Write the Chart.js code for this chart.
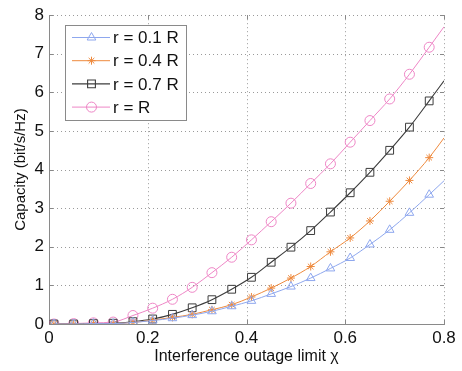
<!DOCTYPE html>
<html>
<head>
<meta charset="utf-8">
<script src="https://cdn.jsdelivr.net/npm/chart.js@4/dist/chart.umd.min.js"></script>
<style>
  html, body { margin: 0; padding: 0; background: #fff; }
  #wrap { width: 462px; height: 371px; position: relative; }
</style>
</head>
<body>
<div id="wrap"><canvas id="chart" width="462" height="371"></canvas></div>
<script>
'use strict';

// interference outage limit (x), markers every 0.04, line ends at 0.8
const chi = [0.01, 0.05, 0.09, 0.13, 0.17, 0.21, 0.25, 0.29, 0.33, 0.37,
  0.41, 0.45, 0.49, 0.53, 0.57, 0.61, 0.65, 0.69, 0.73, 0.77, 0.8];

const capR01 = [0, 0, 0.01, 0.01, 0.04, 0.09, 0.15, 0.23, 0.33, 0.46,
  0.60, 0.78, 0.97, 1.19, 1.44, 1.71, 2.06, 2.44, 2.88, 3.35, 3.71];
const capR04 = [0, 0, 0.01, 0.01, 0.04, 0.10, 0.17, 0.25, 0.37, 0.50,
  0.70, 0.93, 1.19, 1.49, 1.87, 2.23, 2.67, 3.18, 3.72, 4.31, 4.82];
const capR07 = [0, 0, 0.01, 0.02, 0.06, 0.13, 0.25, 0.42, 0.63, 0.90,
  1.21, 1.60, 1.99, 2.42, 2.90, 3.40, 3.93, 4.50, 5.10, 5.78, 6.30];
const capR1 = [0, 0.01, 0.03, 0.05, 0.22, 0.41, 0.64, 0.95, 1.33, 1.73,
  2.18, 2.65, 3.13, 3.64, 4.15, 4.71, 5.27, 5.83, 6.47, 7.17, 7.70];

const seriesLabels = ['r = 0.1 R', 'r = 0.4 R', 'r = 0.7 R', 'r = R'];
const xTicks = [0, 0.2, 0.4, 0.6, 0.8];
const yTicks = [0, 1, 2, 3, 4, 5, 6, 7, 8];

const FONT = '"Liberation Sans", Arial, Helvetica, sans-serif';

// marker on every point except the final line end
const markerRadius = r => chi.map((_, i) => (i === chi.length - 1 ? 0 : r));

const SERIES = [
  { data: capR01, color: '#8ea7ee', style: 'triangle', radius: 5, width: 1 },
  { data: capR04, color: '#ee8a3e', style: 'star', radius: 4, width: 1 },
  { data: capR07, color: '#3c3c3c', style: 'rect', radius: 5.5, width: 1.1 },
  { data: capR1, color: '#ee86c6', style: 'circle', radius: 5, width: 1 },
];

// dotted grid plus small inward ticks, MATLAB style
const dottedGridPlugin = {
  id: 'dottedGrid',
  beforeDatasetsDraw(chart) {
    const { ctx, chartArea: a, scales } = chart;
    ctx.save();
    ctx.strokeStyle = '#9a9a9a';
    ctx.lineWidth = 1;
    ctx.setLineDash([1, 3]);
    ctx.beginPath();
    yTicks.forEach(v => {
      if (v === 0) return;
      const y = Math.round(scales.y.getPixelForValue(v)) + 0.5;
      ctx.moveTo(a.left, y); ctx.lineTo(a.right, y);
    });
    xTicks.forEach(v => {
      if (v === 0) return;
      const x = Math.round(scales.x.getPixelForValue(v)) + 0.5;
      ctx.moveTo(x, a.top); ctx.lineTo(x, a.bottom);
    });
    ctx.stroke();
    ctx.setLineDash([]);
    ctx.strokeStyle = '#888';
    ctx.beginPath();
    yTicks.forEach(v => {
      const y = Math.round(scales.y.getPixelForValue(v)) + 0.5;
      ctx.moveTo(a.left, y); ctx.lineTo(a.left + 4, y);
      ctx.moveTo(a.right, y); ctx.lineTo(a.right - 4, y);
    });
    xTicks.forEach(v => {
      const x = Math.round(scales.x.getPixelForValue(v)) + 0.5;
      ctx.moveTo(x, a.bottom); ctx.lineTo(x, a.bottom - 4);
      ctx.moveTo(x, a.top); ctx.lineTo(x, a.top + 4);
    });
    ctx.stroke();
    ctx.restore();
  },
};

// MATLAB-like legend box inside the axes
const boxLegendPlugin = {
  id: 'boxLegend',
  afterDraw(chart) {
    const { ctx } = chart;
    const box = { x: 65.5, y: 25.5, w: 121, h: 95 };
    ctx.save();
    ctx.fillStyle = '#fff';
    ctx.fillRect(box.x, box.y, box.w, box.h);
    ctx.strokeStyle = '#8a8a8a';
    ctx.lineWidth = 1;
    ctx.strokeRect(box.x, box.y, box.w, box.h);
    ctx.font = `17px ${FONT}`;
    ctx.textBaseline = 'middle';
    ctx.textAlign = 'left';
    chart.data.datasets.forEach((ds, i) => {
      const s = SERIES[i];
      const y = box.y + 12 + i * 23.2;
      ctx.strokeStyle = s.color;
      ctx.lineWidth = s.width;
      ctx.beginPath();
      ctx.moveTo(72, y);
      ctx.lineTo(110, y);
      ctx.stroke();
      ctx.fillStyle = 'rgba(0,0,0,0)';
      Chart.helpers.drawPoint(ctx, {
        pointStyle: s.style, radius: s.radius, rotation: 0, borderWidth: 1,
      }, 91.5, y);
      ctx.fillStyle = '#111';
      ctx.fillText(ds.label, 113, y + 1);
    });
    ctx.restore();
  },
};

const datasets = SERIES.map((s, i) => ({
  label: seriesLabels[i],
  data: chi.map((x, j) => ({ x, y: s.data[j] })),
  borderColor: s.color,
  backgroundColor: 'rgba(0,0,0,0)',
  borderWidth: s.width,
  pointStyle: s.style,
  pointRadius: markerRadius(s.radius),
  pointBorderColor: s.color,
  pointBackgroundColor: 'rgba(0,0,0,0)',
  pointBorderWidth: 1,
  cubicInterpolationMode: 'monotone',
}));

new Chart(document.getElementById('chart'), {
  type: 'line',
  data: { datasets },
  options: {
    responsive: false,
    animation: false,
    devicePixelRatio: 1,
    layout: { padding: { top: 11, right: 18, left: 0, bottom: 0 } },
    plugins: { legend: { display: false }, tooltip: { enabled: false } },
    scales: {
      x: {
        type: 'linear',
        min: 0,
        max: 0.8,
        afterBuildTicks: scale => { scale.ticks = xTicks.map(value => ({ value })); },
        afterFit: scale => { scale.height = 47; },
        grid: { display: false, drawTicks: false },
        border: { display: true, color: '#8a8a8a' },
        ticks: {
          color: '#111',
          padding: 4,
          maxRotation: 0,
          font: { family: FONT, size: 17 },
          callback: v => (v === 0 ? '0' : v.toFixed(1)),
        },
        title: {
          display: true,
          text: 'Interference outage limit χ',
          color: '#111',
          font: { family: FONT, size: 16 },
          padding: { top: 0, bottom: 5 },
        },
      },
      y: {
        min: 0,
        max: 8,
        afterBuildTicks: scale => { scale.ticks = yTicks.map(value => ({ value })); },
        afterFit: scale => { scale.width = 49; },
        grid: { display: false, drawTicks: false },
        border: { display: true, color: '#8a8a8a' },
        ticks: {
          color: '#111',
          padding: 5,
          font: { family: FONT, size: 17 },
          callback: v => String(v),
        },
        title: {
          display: true,
          text: 'Capacity (bit/s/Hz)',
          color: '#111',
          font: { family: FONT, size: 15 },
          padding: { top: 12, bottom: 0 },
        },
      },
    },
  },
  plugins: [dottedGridPlugin, boxLegendPlugin],
});
</script>
</body>
</html>
